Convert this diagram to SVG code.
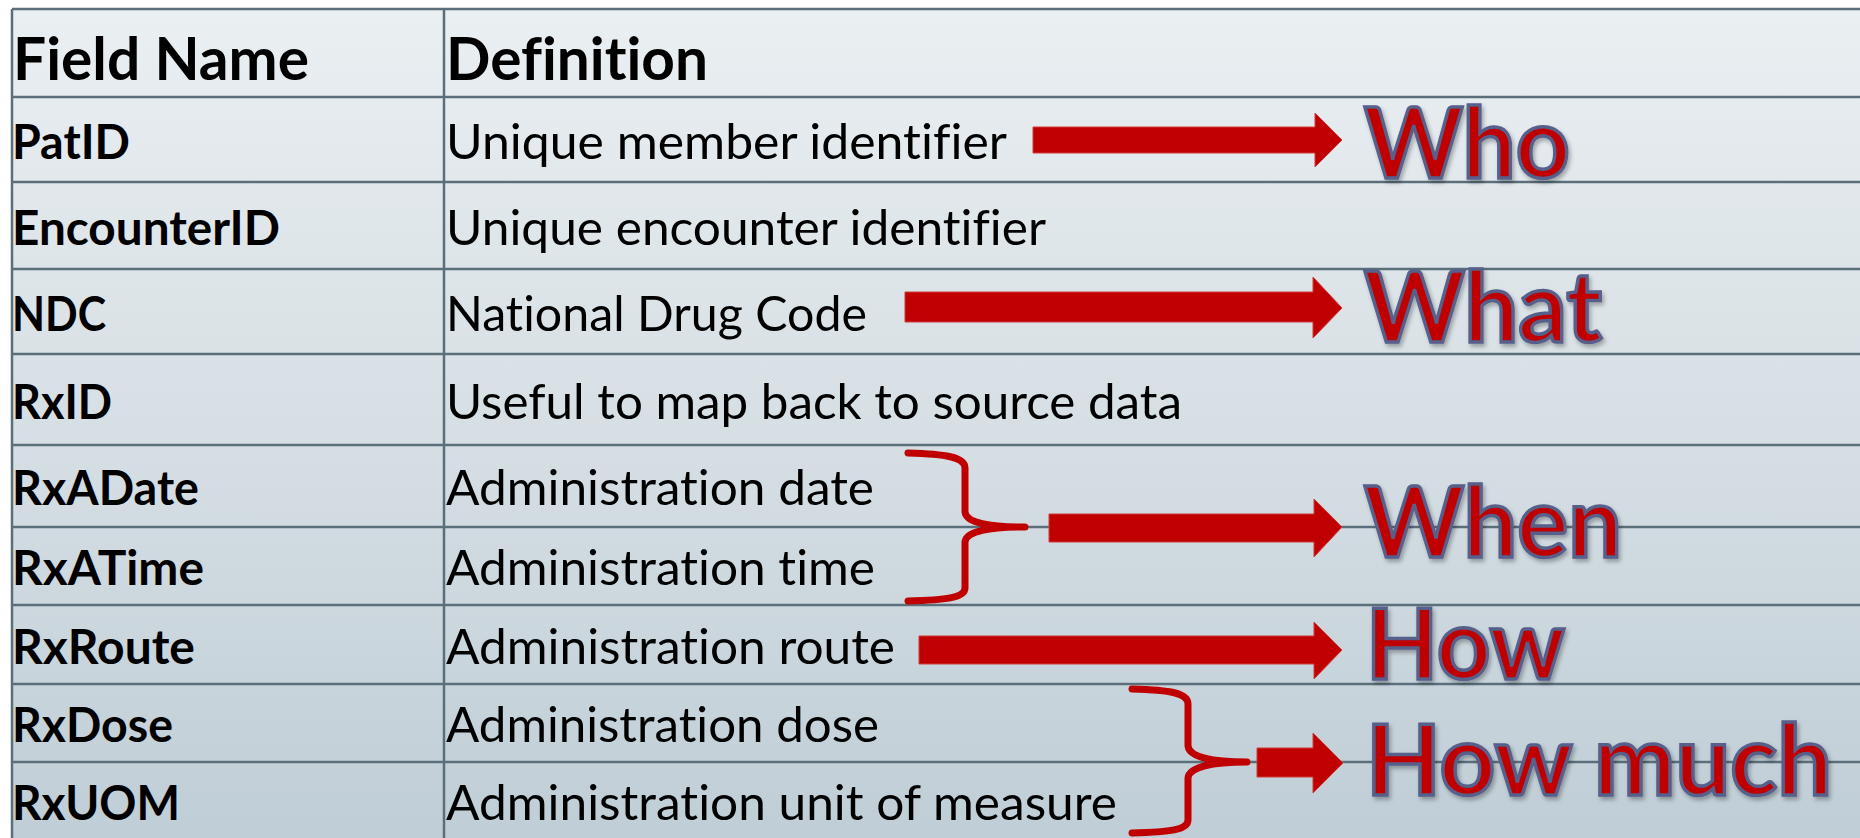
<svg xmlns="http://www.w3.org/2000/svg" width="1860" height="838" viewBox="0 0 1860 838">
  <defs>
    <linearGradient id="bg" x1="0" y1="0" x2="0" y2="1">
      <stop offset="0" stop-color="#eaeff2"/>
      <stop offset="0.5" stop-color="#d6dfe4"/>
      <stop offset="1" stop-color="#bfcdd6"/>
    </linearGradient>
    <filter id="shadow" x="-10%" y="-10%" width="130%" height="140%">
      <feDropShadow dx="2" dy="3" stdDeviation="2" flood-color="#000" flood-opacity="0.3"/>
    </filter>
  </defs>
  <style>
    text { font-variant-ligatures: none; font-feature-settings: "liga" 0, "clig" 0; }
    .grid { stroke: #5b6f7b; stroke-width: 2.5; fill: none; }
    .hdr { font-family: Lato, "Liberation Sans", sans-serif; font-weight: bold; font-size: 59px; fill: #000; }
    .fld { font-family: Lato, "Liberation Sans", sans-serif; font-weight: bold; font-size: 48px; fill: #000; }
    .def { font-family: Lato, "Liberation Sans", sans-serif; font-size: 48.5px; fill: #000; }
    .big { font-family: Lato, "Liberation Sans", sans-serif; font-weight: bold; font-size: 98px; fill: #c00000; stroke: #56608a; stroke-width: 3.5; filter: url(#shadow); }
    .arrow { fill: #c00000; stroke: #d03a3a; stroke-width: 1; }
    .brace { fill: none; stroke: #c00000; stroke-width: 7; stroke-linecap: round; stroke-linejoin: round; }
  </style>
  <rect x="0" y="0" width="1860" height="838" fill="#ffffff"/>
  <rect x="12" y="9" width="1860" height="840" fill="url(#bg)"/>

  <g id="table-grid">
    <line class="grid" x1="12" y1="9" x2="1860" y2="9"/>
    <line class="grid" x1="12" y1="97" x2="1860" y2="97"/>
    <line class="grid" x1="12" y1="182" x2="1860" y2="182"/>
    <line class="grid" x1="12" y1="269" x2="1860" y2="269"/>
    <line class="grid" x1="12" y1="354" x2="1860" y2="354"/>
    <line class="grid" x1="12" y1="445" x2="1860" y2="445"/>
    <line class="grid" x1="12" y1="527" x2="1860" y2="527"/>
    <line class="grid" x1="12" y1="605" x2="1860" y2="605"/>
    <line class="grid" x1="12" y1="684" x2="1860" y2="684"/>
    <line class="grid" x1="12" y1="762" x2="1860" y2="762"/>
    <line class="grid" x1="12" y1="9" x2="12" y2="838"/>
    <line class="grid" x1="444" y1="9" x2="444" y2="838"/>
  </g>

  <g id="row-header">
    <text class="hdr" x="13" y="80" textLength="296" lengthAdjust="spacingAndGlyphs">Field Name</text>
    <text class="hdr" x="446" y="80" textLength="262" lengthAdjust="spacingAndGlyphs">Definition</text>
  </g>
  <g id="row-patid">
    <text class="fld" x="12" y="159" textLength="118" lengthAdjust="spacingAndGlyphs">PatID</text>
    <text class="def" x="446" y="159" textLength="561" lengthAdjust="spacingAndGlyphs">Unique member identifier</text>
  </g>
  <g id="row-encounterid">
    <text class="fld" x="12" y="245" textLength="268" lengthAdjust="spacingAndGlyphs">EncounterID</text>
    <text class="def" x="446" y="245" textLength="600" lengthAdjust="spacingAndGlyphs">Unique encounter identifier</text>
  </g>
  <g id="row-ndc">
    <text class="fld" x="12" y="331" textLength="94" lengthAdjust="spacingAndGlyphs">NDC</text>
    <text class="def" x="446" y="331" textLength="421" lengthAdjust="spacingAndGlyphs">National Drug Code</text>
  </g>
  <g id="row-rxid">
    <text class="fld" x="12" y="419" textLength="100" lengthAdjust="spacingAndGlyphs">RxID</text>
    <text class="def" x="446" y="419" textLength="736" lengthAdjust="spacingAndGlyphs">Useful to map back to source data</text>
  </g>
  <g id="row-rxadate">
    <text class="fld" x="12" y="505" textLength="187" lengthAdjust="spacingAndGlyphs">RxADate</text>
    <text class="def" x="446" y="505" textLength="428" lengthAdjust="spacingAndGlyphs">Administration date</text>
  </g>
  <g id="row-rxatime">
    <text class="fld" x="12" y="585" textLength="192" lengthAdjust="spacingAndGlyphs">RxATime</text>
    <text class="def" x="446" y="585" textLength="429" lengthAdjust="spacingAndGlyphs">Administration time</text>
  </g>
  <g id="row-rxroute">
    <text class="fld" x="12" y="664" textLength="183" lengthAdjust="spacingAndGlyphs">RxRoute</text>
    <text class="def" x="446" y="664" textLength="449" lengthAdjust="spacingAndGlyphs">Administration route</text>
  </g>
  <g id="row-rxdose">
    <text class="fld" x="12" y="742" textLength="161" lengthAdjust="spacingAndGlyphs">RxDose</text>
    <text class="def" x="446" y="742" textLength="433" lengthAdjust="spacingAndGlyphs">Administration dose</text>
  </g>
  <g id="row-rxuom">
    <text class="fld" x="12" y="820" textLength="168" lengthAdjust="spacingAndGlyphs">RxUOM</text>
    <text class="def" x="446" y="820" textLength="671" lengthAdjust="spacingAndGlyphs">Administration unit of measure</text>
  </g>

  <g id="connectors">
    <polygon class="arrow" points="1033,127 1315,127 1315,113 1342,140 1315,167 1315,153 1033,153"/>
    <polygon class="arrow" points="905,292 1313,292 1313,277 1342,308 1313,338 1313,322 905,322"/>
    <path class="brace" d="M908,453 C945,454 965,457 965,468 L965,512 C966,523 990,527 1025,527 C990,527 966,531 965,542 L965,588 C965,598 945,600 908,601"/>
    <polygon class="arrow" points="1049,514 1314,514 1314,499 1342,527 1314,557 1314,542 1049,542"/>
    <polygon class="arrow" points="919,636 1314,636 1314,622 1342,650 1314,679 1314,664 919,664"/>
    <path class="brace" d="M1132,689 C1170,690 1188,693 1188,704 L1188,746 C1189,757 1212,762 1247,762 C1212,762 1189,767 1188,778 L1188,820 C1188,830 1170,832 1132,833"/>
    <polygon class="arrow" points="1257,748 1313,748 1313,733 1343,763 1313,793 1313,777 1257,777"/>
  </g>

  <g id="label-who"><text class="big" x="1364" y="178" textLength="206" lengthAdjust="spacingAndGlyphs">Who</text></g>
  <g id="label-what"><text class="big" x="1364" y="342" textLength="238" lengthAdjust="spacingAndGlyphs">What</text></g>
  <g id="label-when"><text class="big" x="1364" y="557" textLength="258" lengthAdjust="spacingAndGlyphs">When</text></g>
  <g id="label-how"><text class="big" x="1366" y="679" textLength="199" lengthAdjust="spacingAndGlyphs">How</text></g>
  <g id="label-how-much"><text class="big" x="1366" y="795" textLength="466" lengthAdjust="spacingAndGlyphs">How much</text></g>
</svg>
